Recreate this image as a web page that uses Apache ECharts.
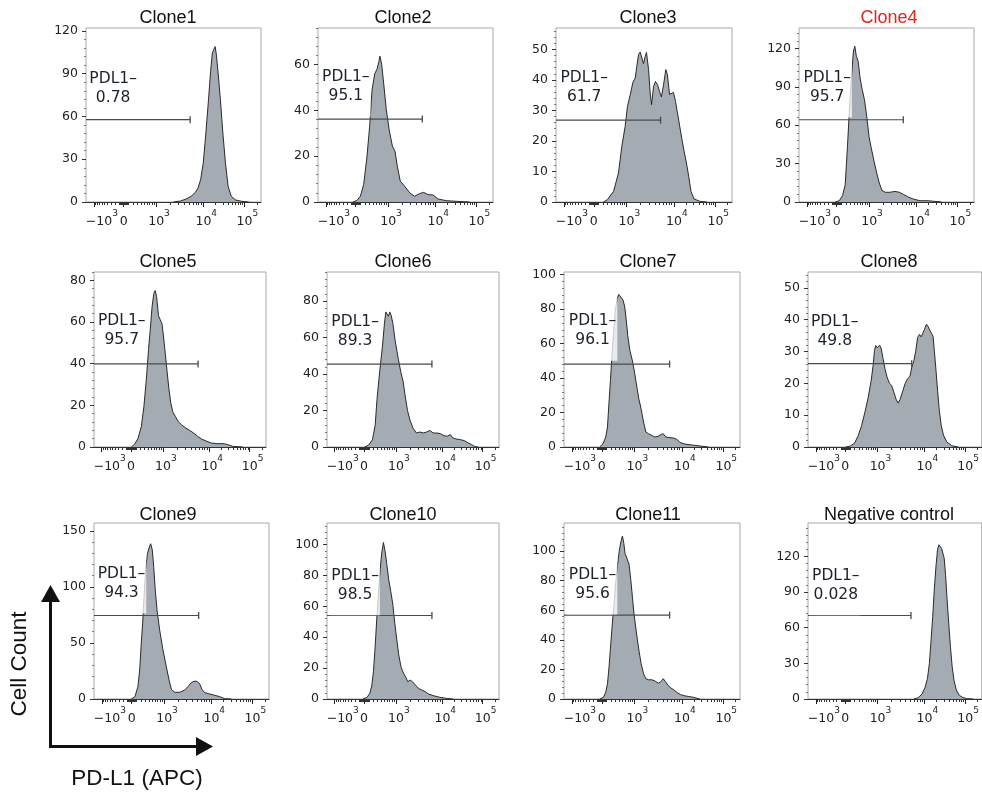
<!DOCTYPE html>
<html>
<head>
<meta charset="utf-8">
<title>PD-L1 histograms</title>
<script src="https://cdn.jsdelivr.net/npm/echarts@6/dist/echarts.min.js"></script>
<style>
  html, body { margin: 0; padding: 0; background: #fff; }
  #main { width: 982px; height: 796px; }
</style>
</head>
<body>
<div id="main"></div>
<script>
// x values are display channels: 0 = left edge of a plot, 1000 = right edge
var titles = ['Clone1', 'Clone2', 'Clone3', 'Clone4', 'Clone5', 'Clone6',
  'Clone7', 'Clone8', 'Clone9', 'Clone10', 'Clone11', 'Negative control'];
var pdl1Neg = ['0.78', '95.1', '61.7', '95.7', '95.7', '89.3', '96.1', '49.8', '94.3', '98.5', '95.6', '0.028'];
var yMax = [122, 76, 57, 136, 84, 96, 101.5, 55, 157, 114, 119, 148];
var yStep = [30, 20, 10, 30, 20, 20, 20, 10, 50, 20, 20, 30];
var gateY = [57.7, 36.2, 26.8, 64.3, 39.9, 45.5, 48.1, 26.2, 74.5, 54.1, 56.7, 70.2];
var gateEnd = [595, 596, 594, 596, 605, 610, 600, 597, 598, 610, 600, 593];
var labelAt = [[15, 86.2], [19, 54.5], [21, 40.6], [21, 96.9], [19, 60.3], [21, 68.6],
  [23, 72.9], [13, 39.3], [17, 111.4], [21, 79.8], [23, 83.9], [19, 103.6]];

// x axis ticks (-10^3, 0, 10^3, 10^4, 10^5) in channels
var xTickChannels = [45, 215, 400, 670, 905];
var xTickLabels = ['{n|\u221210}{s|3}', '{b|0}', '{p|10}{s|3}', '{p|10}{s|4}', '{p|10}{s|5}'];

var hist1 = [[500,0],[540,0.7],[570,2],[600,3.9],[625,6.8],[640,9.8],[655,15.7],[670,27.3],[685,48.4],[700,71.7],[712,91.6],[722,104.5],[732,107.3],[738,109],[745,103.2],[755,90.4],[768,71.7],[782,48.4],[797,27.3],[812,11],[830,4],[855,1.4],[890,0.5],[930,0]];
var hist2 = [[200,0],[223,0.7],[242,2.5],[261,7.6],[280,20],[295,33],[309,49],[324,56],[337,58],[347,61],[354,63.7],[364,60],[375,52],[390,40.5],[406,31.8],[425,24.4],[440,22.2],[453,15.7],[470,9.1],[495,6.9],[524,4],[552,2.5],[581,3.7],[604,4.2],[629,3.2],[657,3.1],[686,1.3],[733,0.6],[790,0.3],[867,0]];
var hist3 = [[270,0],[293,0.8],[327,3.5],[355,9.5],[374,18.2],[393,24.8],[406,31.3],[422,35.2],[437,39.2],[450,40.6],[459,44.4],[469,48.3],[478,49.1],[488,47.2],[497,45.3],[507,47.7],[514,49],[526,43.4],[535,35.7],[543,31.9],[554,37.7],[565,39.5],[577,38.4],[588,36.3],[599,34.4],[611,38.4],[624,43.4],[633,41.7],[645,35.2],[654,34.6],[667,35.9],[679,33],[690,29.2],[703,24.8],[716,20.4],[728,16.6],[741,12.8],[754,8.4],[767,3.5],[784,1],[819,0.2],[856,0]];
var hist4 = [[207,0],[230,1],[249,5],[264,13.5],[277,43.5],[288,72],[300,98],[311,118],[319,121.7],[328,113.8],[338,110],[349,97],[361,88],[374,80],[387,67],[400,51.3],[414,41.4],[429,31.8],[444,22.7],[459,14.8],[474,9.1],[493,7.6],[520,7.6],[548,8.3],[573,7.6],[596,6],[624,3.9],[653,2.3],[691,1],[738,1],[776,0.5],[814,0]];
var hist5 = [[217,0],[236,1.3],[255,4],[275,9.7],[290,19.3],[304,32.2],[317,46.7],[327,56.3],[338,67.6],[348,73.7],[356,75.1],[364,72.1],[375,63],[385,61.1],[395,59.2],[402,54.7],[412,46.7],[424,37],[435,28.2],[447,20.9],[458,16.9],[474,14.5],[491,12.1],[511,10.5],[532,9.2],[555,8],[578,6.8],[603,5.1],[627,3.7],[652,2.9],[681,1.9],[720,1.6],[758,1.6],[783,1],[807,0.3],[865,0]];
var hist6 = [[219,0],[243,1.1],[264,4],[280,11.9],[291,26.5],[307,42.1],[322,54.9],[334,67.7],[342,74.1],[350,74.6],[357,71.7],[365,74.1],[373,72.2],[383,67.7],[396,58.5],[414,48.5],[429,41.2],[443,35.7],[454,28.3],[468,20.1],[483,14.6],[501,10.1],[520,7.7],[540,8.2],[559,7.7],[579,8.2],[598,9.1],[617,7.7],[637,7.7],[660,7.3],[680,6.2],[699,5.9],[717,6.8],[730,5.1],[750,4.4],[777,4],[798,3.5],[821,2.2],[841,1.3],[860,0.2],[880,0]];
var hist7 = [[203,0],[222,1.9],[237,5.8],[247,11.6],[254,23.2],[264,38.7],[273,54.1],[283,67.7],[292,79.3],[302,86],[311,88.5],[317,89.5],[326,86.6],[336,85.1],[345,81.2],[353,74.4],[362,64.8],[374,56.1],[389,49.9],[402,42.5],[414,34.8],[425,28],[438,22.2],[452,14.5],[465,8.7],[480,7.7],[497,6.8],[516,5.8],[535,6.2],[552,7.3],[564,7.7],[579,5.8],[602,5.4],[624,5.2],[643,4.3],[658,2.7],[687,1.7],[725,1.2],[772,0.6],[820,0]];
var hist8 = [[218,0],[244,0.3],[269,1.3],[290,3.7],[309,6.8],[328,11],[347,15.7],[364,21],[375,25.7],[383,30.4],[390,31.9],[398,31.2],[405,31.2],[413,32],[422,30.8],[432,27.8],[443,24.6],[455,22],[468,20.1],[481,19.4],[494,17.3],[508,14.9],[519,13.8],[530,14.9],[544,17.3],[559,19.9],[574,21.5],[587,22.2],[598,25.2],[610,27.2],[621,30.4],[631,34.4],[642,35.4],[652,34.6],[661,35.8],[672,37.1],[682,38.6],[691,37.9],[701,36.7],[712,35.6],[720,34.8],[727,30.4],[737,24.1],[746,17.8],[756,11.5],[767,6.8],[780,3.7],[799,1.6],[828,0.4],[866,0]];
var hist9 = [[213,0],[234,2.1],[251,11],[261,25.9],[270,49.7],[278,67.6],[286,91.5],[295,115.3],[305,129.6],[316,135.5],[324,138.5],[333,133.2],[341,118.3],[350,97.4],[360,79.5],[375,61.7],[394,43.8],[413,28.9],[429,17],[442,8.6],[461,6],[490,6],[518,8],[537,11],[556,14.6],[571,15.8],[589,15.8],[604,13.4],[617,8.6],[632,5.7],[661,4.5],[690,3.3],[718,2.1],[747,0.3],[785,0]];
var hist10 = [[210,0],[233,1.1],[249,3.7],[260,8.4],[270,17.7],[280,34],[289,51.3],[299,68.6],[309,83.7],[318,94.5],[328,101.4],[338,95.6],[348,87],[359,77.2],[371,69.6],[383,61],[394,49.1],[406,38.3],[417,28.6],[431,20.5],[445,16.7],[458,14.1],[470,11.2],[483,12.3],[497,11.2],[513,9.1],[532,6.9],[551,5.8],[571,4.8],[590,3.2],[617,2.2],[656,1.1],[695,0.4],[734,0]];
var hist11 = [[203,0],[224,1.1],[237,4.6],[247,10.3],[256,21.7],[266,37.7],[275,51.4],[285,65.1],[294,78.9],[304,90.3],[313,99.4],[323,106.3],[332,110.2],[340,105.2],[347,98.3],[355,96],[362,97.2],[370,90.8],[380,80],[389,68.6],[398,57.2],[408,48],[417,40],[427,32],[438,24],[452,17.1],[465,13.7],[480,13],[499,13],[518,12.1],[535,10.7],[548,11.4],[564,13.7],[577,11.7],[592,9.1],[607,7.5],[624,6.2],[643,4.3],[662,3],[687,2.1],[715,1.6],[744,0.9],[772,0]];
var hist12 = [[610,0],[634,1.1],[657,4.2],[674,9.8],[688,17.4],[699,30],[708,48.3],[718,69.4],[727,91.8],[737,112],[746,126],[754,129.7],[761,130.6],[769,126.6],[777,126.6],[784,118.5],[792,104.5],[801,83.4],[811,62.3],[820,44.1],[830,27.2],[841,15.4],[854,7.6],[871,3.1],[890,1.4],[913,0.3],[951,0]];
var hists = [hist1, hist2, hist3, hist4, hist5, hist6, hist7, hist8, hist9, hist10, hist11, hist12];

// panel boxes in px: [left, top, width, height]
var boxes = [
  [86, 28, 175, 174], [318, 28, 175, 174], [556, 28, 176, 174], [799, 28, 175, 174],
  [94, 272, 172, 175], [327, 272, 172, 175], [564, 272, 176, 175], [808, 272, 176, 175],
  [94, 523, 175, 176], [327, 523, 172, 176], [564, 523, 176, 176], [808, 523, 176, 176]
];
var titleX = [168, 403, 648, 889];
var titleTop = [9, 253, 506];

// minor tick channels of the biexponential axis
function biex(v) {
  var w = 400, lin = Math.asinh(Math.abs(v) / w) / Math.asinh(1000 / w);
  if (Math.abs(v) <= 1000) {
    return v >= 0 ? xTickChannels[1] + lin * (xTickChannels[2] - xTickChannels[1])
                  : xTickChannels[1] - lin * (xTickChannels[1] - xTickChannels[0]);
  }
  var d = Math.log10(v);
  if (d <= 4) return xTickChannels[2] + (d - 3) * (xTickChannels[3] - xTickChannels[2]);
  return xTickChannels[3] + (d - 4) * (xTickChannels[4] - xTickChannels[3]);
}
var xMinor = [];
(function () {
  var k;
  for (k = 10; k < 100; k += 10) { xMinor.push(biex(k)); xMinor.push(biex(-k)); }
  for (k = 100; k < 1000; k += 100) { xMinor.push(biex(k)); xMinor.push(biex(-k)); }
  for (k = 2; k < 10; k++) { xMinor.push(biex(k * 1000)); xMinor.push(biex(k * 10000)); }
  var c = biex(100000) + (xTickChannels[4] - xTickChannels[3]) * Math.log10(2);
  if (c <= 1000) xMinor.push(c);
})();

var labelFont = 'DejaVu Sans, Verdana, sans-serif';
var grids = [], xAxes = [], yAxes = [], series = [], titleList = [];

for (var i = 0; i < 12; i++) {
  var b = boxes[i];
  grids.push({
    left: b[0], top: b[1], width: b[2], height: b[3],
    show: true, borderColor: '#a8a8a8', borderWidth: 1, backgroundColor: '#fff'
  });

  var majors = [], minors = [];
  for (var v = 0; v <= yMax[i] + 1e-6; v += yStep[i]) majors.push(v);
  for (var m = 1; m * yStep[i] / 5 <= yMax[i]; m++) {
    if (m % 5 !== 0) minors.push(m * yStep[i] / 5);
  }

  xAxes.push({
    type: 'value', gridIndex: i, min: 0, max: 1000, position: 'bottom',
    axisLine: { show: true, lineStyle: { color: '#333', width: 1 } },
    splitLine: { show: false },
    axisTick: { show: true, customValues: xTickChannels, length: 5, lineStyle: { color: '#222', width: 1 } },
    axisLabel: {
      show: true, customValues: xTickChannels, margin: 7,
      formatter: function (val) {
        var idx = xTickChannels.indexOf(val);
        return idx >= 0 ? xTickLabels[idx] : '';
      },
      rich: {
        n: { fontFamily: labelFont, fontSize: 12.5, color: '#222', lineHeight: 26, padding: [0, 0, 0, 16] },
        p: { fontFamily: labelFont, fontSize: 12.5, color: '#222', lineHeight: 26, padding: [0, 0, 0, 6] },
        b: { fontFamily: labelFont, fontSize: 12.5, color: '#222', lineHeight: 26 },
        s: { fontFamily: labelFont, fontSize: 9, color: '#222', lineHeight: 10, verticalAlign: 'top' }
      }
    }
  });
  xAxes.push({
    type: 'value', gridIndex: i, min: 0, max: 1000, position: 'bottom',
    axisLine: { show: false }, splitLine: { show: false }, axisLabel: { show: false },
    axisTick: { show: true, customValues: xMinor, length: 3, lineStyle: { color: '#333', width: 1 } }
  });
  yAxes.push({
    type: 'value', gridIndex: i, min: 0, max: yMax[i], position: 'left',
    axisLine: { show: false }, splitLine: { show: false },
    axisTick: { show: true, customValues: majors, length: 4, lineStyle: { color: '#333' } },
    axisLabel: { show: true, customValues: majors, margin: 8, fontFamily: labelFont, fontSize: 12.5, color: '#222' }
  });
  yAxes.push({
    type: 'value', gridIndex: i, min: 0, max: yMax[i], position: 'left',
    axisLine: { show: false }, splitLine: { show: false }, axisLabel: { show: false },
    axisTick: { show: true, customValues: minors, length: 2, lineStyle: { color: '#777' } }
  });

  series.push({
    type: 'line', xAxisIndex: 2 * i, yAxisIndex: 2 * i, data: hists[i],
    symbol: 'none', silent: true, z: 2,
    lineStyle: { color: '#2a2a2a', width: 1 },
    areaStyle: { color: '#a5abb3', opacity: 1 }
  });
  series.push({
    type: 'line', xAxisIndex: 2 * i, yAxisIndex: 2 * i, silent: true, z: 3,
    data: [[0, gateY[i]], { value: [gateEnd[i], gateY[i]], symbol: 'rect', symbolSize: [1.3, 7] }],
    symbol: 'none',
    lineStyle: { color: '#4a4a4a', width: 1.2 },
    itemStyle: { color: '#4a4a4a' }
  });

  titleList.push({
    text: titles[i], left: titleX[i % 4], top: titleTop[Math.floor(i / 4)],
    textAlign: 'center', padding: 0,
    textStyle: {
      fontFamily: 'Liberation Sans, Arial, sans-serif', fontSize: 18, fontWeight: 'normal',
      color: i === 3 ? '#e1261c' : '#111'
    }
  });
}

var chart = echarts.init(document.getElementById('main'));
chart.setOption({
  animation: false,
  backgroundColor: '#fff',
  title: titleList,
  grid: grids,
  xAxis: xAxes,
  yAxis: yAxes,
  series: series
});

// gate labels and the axis arrows
var graphics = [];
for (var j = 0; j < 12; j++) {
  var p = chart.convertToPixel({ xAxisIndex: 2 * j, yAxisIndex: 2 * j }, labelAt[j]);
  graphics.push({
    type: 'text', z: 100, silent: true,
    x: p[0] + 24, y: p[1] - 9.5 - 14,
    style: {
      text: 'PDL1\u2013\n' + pdl1Neg[j],
      fontFamily: labelFont, fontSize: 15.5, lineHeight: 19,
      fill: '#1b2130', align: 'center', verticalAlign: 'top',
      backgroundColor: 'rgba(255,255,255,0.75)', padding: [14, 1, 11, 2]
    }
  });
}
graphics.push({
  type: 'polyline', z: 100, silent: true,
  shape: { points: [[50.5, 598], [50.5, 746.5], [199, 746.5]] },
  style: { stroke: '#111', lineWidth: 3, fill: null }
});
graphics.push({
  type: 'polygon', z: 100, silent: true,
  shape: { points: [[50.5, 585], [41, 602], [60, 602]] },
  style: { fill: '#111' }
});
graphics.push({
  type: 'polygon', z: 100, silent: true,
  shape: { points: [[213, 746.5], [196, 737], [196, 756]] },
  style: { fill: '#111' }
});
graphics.push({
  type: 'text', z: 100, silent: true, x: 20, y: 664, rotation: Math.PI / 2,
  style: { text: 'Cell Count', fontFamily: 'Liberation Sans, Arial, sans-serif', fontSize: 22.5, fill: '#111', align: 'center', verticalAlign: 'middle' }
});
graphics.push({
  type: 'text', z: 100, silent: true, x: 137, y: 779,
  style: { text: 'PD-L1 (APC)', fontFamily: 'Liberation Sans, Arial, sans-serif', fontSize: 22.5, fill: '#111', align: 'center', verticalAlign: 'middle' }
});
chart.setOption({ graphic: graphics });
</script>
</body>
</html>
